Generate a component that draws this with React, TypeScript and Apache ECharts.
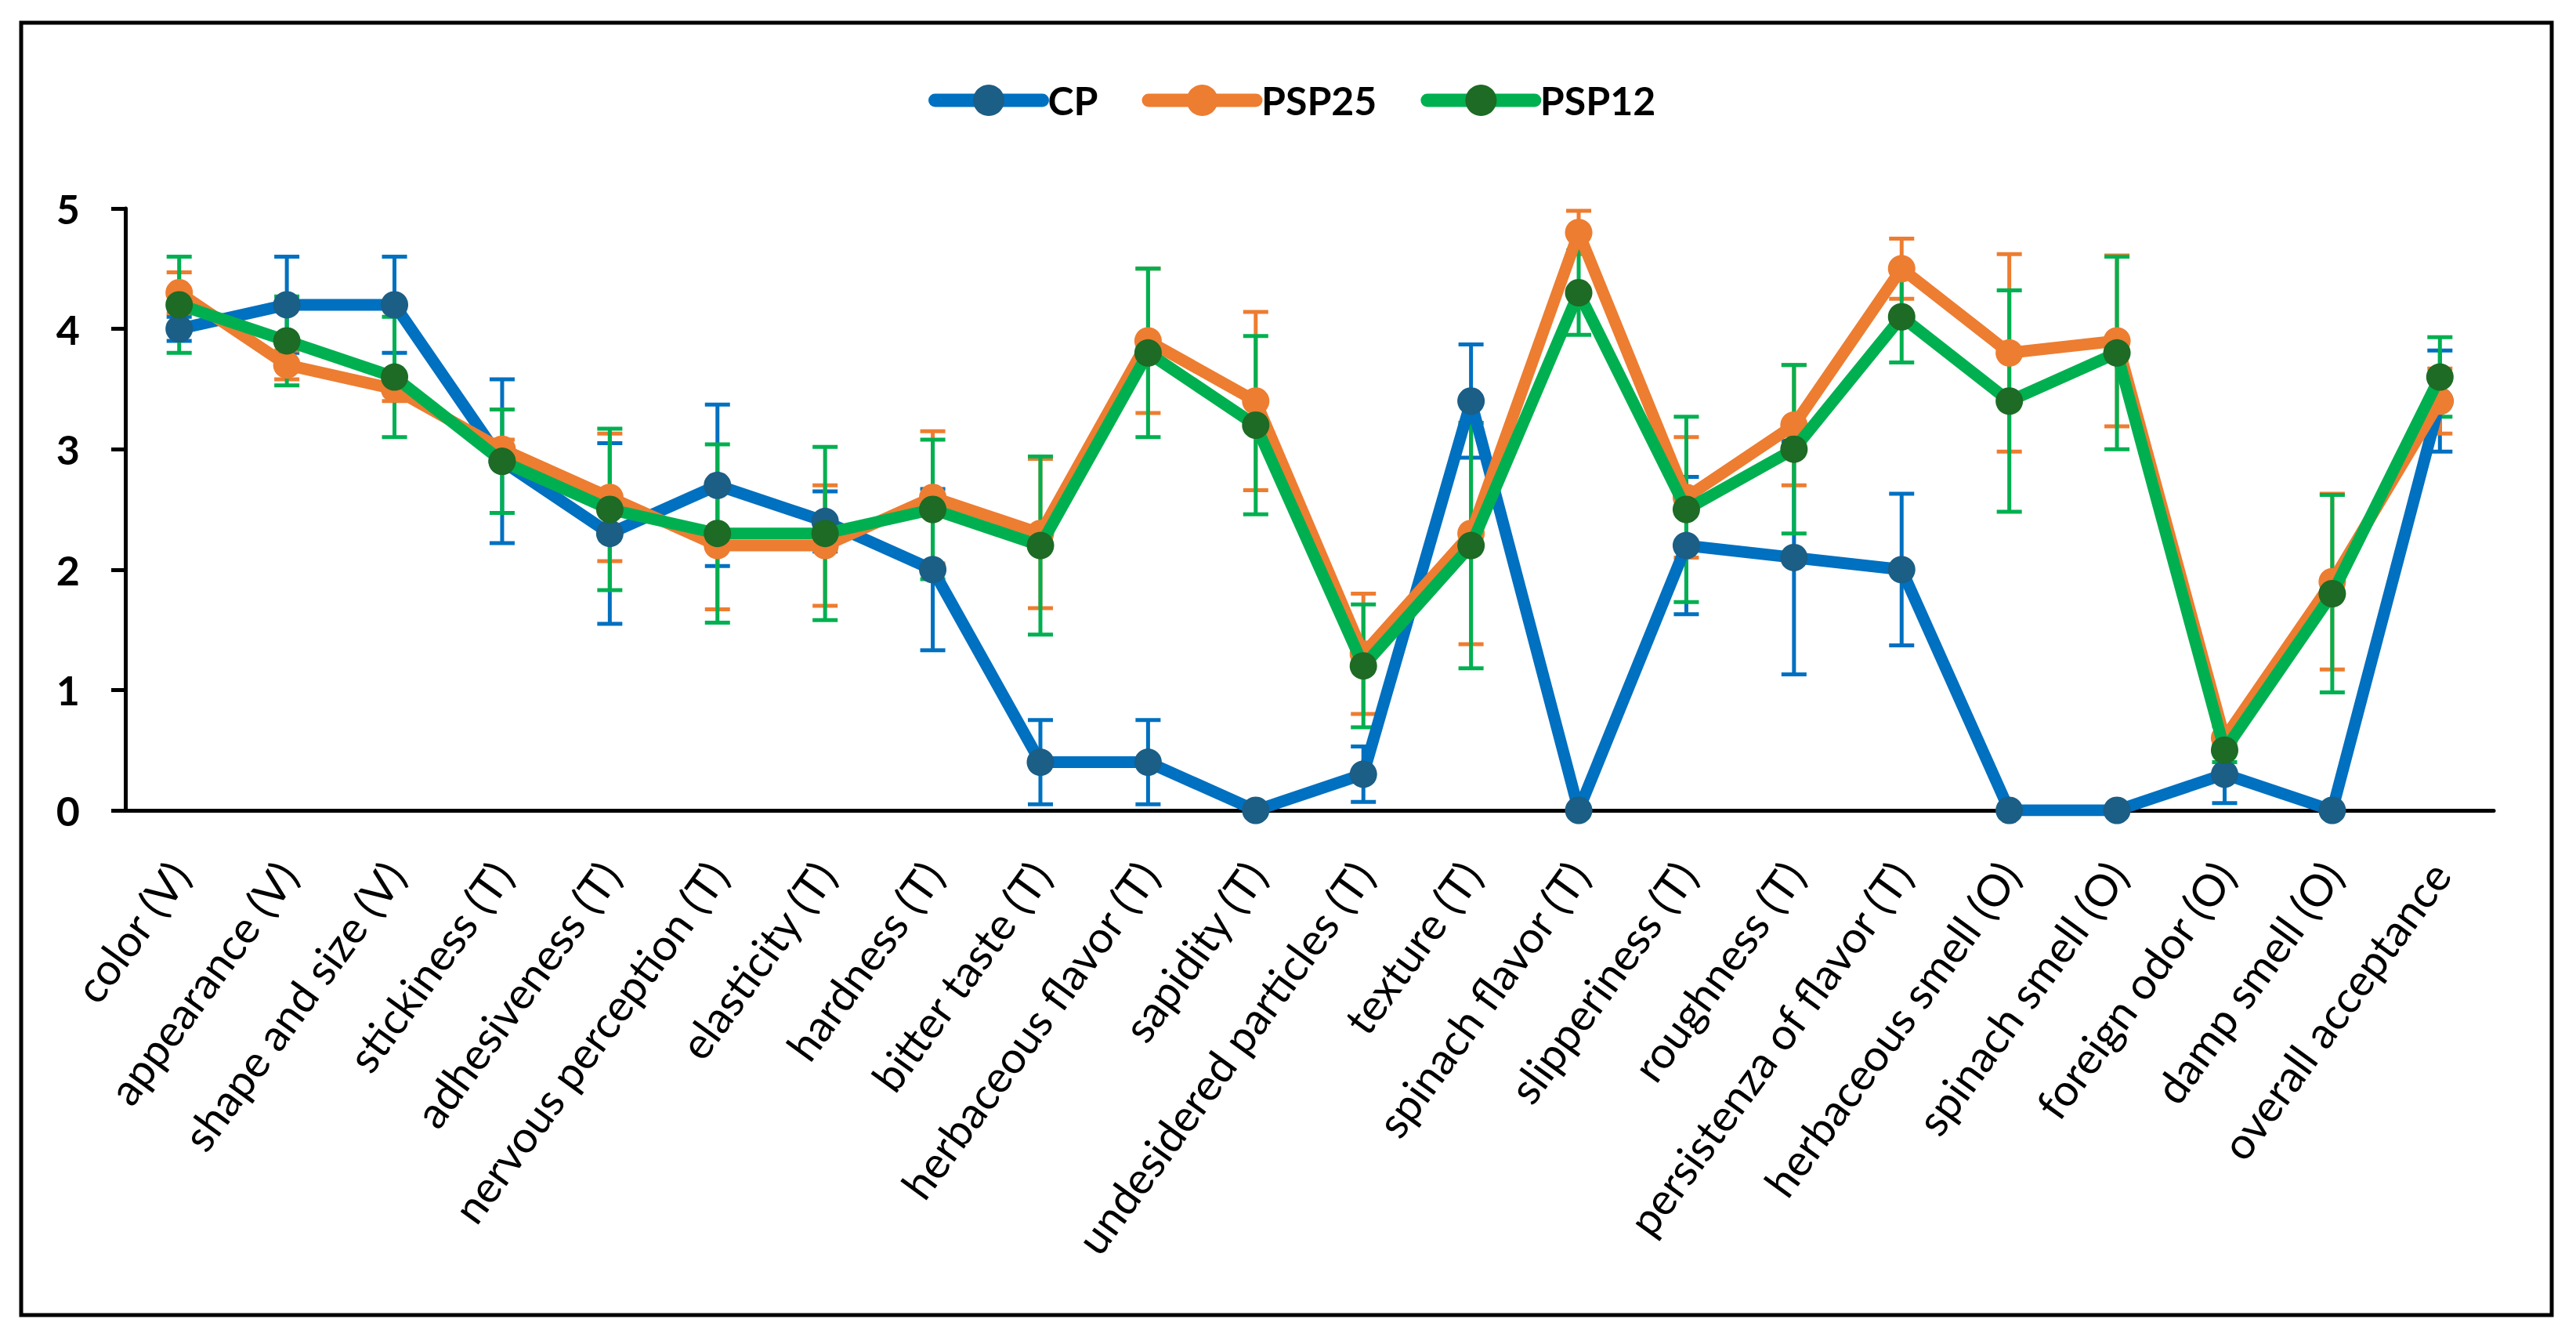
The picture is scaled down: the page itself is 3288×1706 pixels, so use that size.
import React, { useEffect, useRef } from "react";
import * as echarts from "echarts";

const categories = [
  "color (V)",
  "appearance (V)",
  "shape and size (V)",
  "stickiness (T)",
  "adhesiveness (T)",
  "nervous perception (T)",
  "elasticity (T)",
  "hardness (T)",
  "bitter taste (T)",
  "herbaceous flavor (T)",
  "sapidity (T)",
  "undesidered particles (T)",
  "texture (T)",
  "spinach flavor (T)",
  "slipperiness (T)",
  "roughness (T)",
  "persistenza of flavor (T)",
  "herbaceous smell (O)",
  "spinach smell (O)",
  "foreign odor (O)",
  "damp smell (O)",
  "overall acceptance",
];

const cpValues = [4.0, 4.2, 4.2, 2.9, 2.3, 2.7, 2.4, 2.0, 0.4, 0.4, 0, 0.3, 3.4, 0, 2.2, 2.1, 2.0, 0, 0, 0.3, 0, 3.4];
const cpErrors = [0.1, 0.4, 0.4, 0.68, 0.75, 0.67, 0.25, 0.67, 0.35, 0.35, 0, 0.23, 0.47, 0, 0.57, 0.97, 0.63, 0, 0, 0.24, 0, 0.42];

const psp25Values = [4.3, 3.7, 3.5, 3.0, 2.6, 2.2, 2.2, 2.6, 2.3, 3.9, 3.4, 1.3, 2.3, 4.8, 2.6, 3.2, 4.5, 3.8, 3.9, 0.6, 1.9, 3.4];
const psp25Errors = [0.17, 0.12, 0.1, 0.08, 0.53, 0.53, 0.5, 0.55, 0.62, 0.6, 0.74, 0.5, 0.92, 0.18, 0.5, 0.5, 0.25, 0.82, 0.71, 0.1, 0.73, 0.27];

const psp12Values = [4.2, 3.9, 3.6, 2.9, 2.5, 2.3, 2.3, 2.5, 2.2, 3.8, 3.2, 1.2, 2.2, 4.3, 2.5, 3.0, 4.1, 3.4, 3.8, 0.5, 1.8, 3.6];
const psp12Errors = [0.4, 0.37, 0.5, 0.43, 0.67, 0.74, 0.72, 0.58, 0.74, 0.7, 0.74, 0.51, 1.02, 0.35, 0.77, 0.7, 0.38, 0.92, 0.8, 0.1, 0.82, 0.33];

const yTicks = [0, 1, 2, 3, 4, 5];

const FONT = "Lato";

function lineSeries(name: string, values: number[], lineColor: string, markerColor: string, z: number) {
  return {
    type: "line",
    name,
    data: values,
    z,
    symbol: "circle",
    symbolSize: 35,
    lineStyle: { color: lineColor, width: 15 },
    itemStyle: { color: markerColor },
    emphasis: { disabled: true },
  };
}

function errorSeries(name: string, values: number[], errors: number[], color: string) {
  return {
    type: "custom",
    name: name + " error",
    z: 2,
    silent: true,
    data: values.map((v, i) => [i, v - errors[i], v + errors[i], errors[i]]),
    encode: { x: 0, y: [1, 2] },
    renderItem: (_params: any, api: any) => {
      const e = api.value(3);
      if (!e) return null;
      const top = api.coord([api.value(0), api.value(2)]);
      const bot = api.coord([api.value(0), api.value(1)]);
      const x = top[0];
      const half = 16;
      const style = { stroke: color, lineWidth: 5 };
      return {
        type: "group",
        children: [
          { type: "line", shape: { x1: x, y1: top[1], x2: x, y2: bot[1] }, style },
          { type: "line", shape: { x1: x - half, y1: top[1], x2: x + half, y2: top[1] }, style },
          { type: "line", shape: { x1: x - half, y1: bot[1], x2: x + half, y2: bot[1] }, style },
        ],
      };
    },
  };
}

export default function App() {
  const ref = useRef<HTMLDivElement>(null);

  useEffect(() => {
    if (!ref.current) return;
    const chart = echarts.init(ref.current, null, { renderer: "svg" });
    chart.setOption({
      animation: false,
      backgroundColor: "#ffffff",
      textStyle: { fontFamily: FONT, color: "#000" },
      graphic: [
        {
          type: "rect",
          shape: { x: 27, y: 29, width: 3230, height: 1649 },
          style: { fill: "none", stroke: "#000", lineWidth: 5 },
          silent: true,
        },
      ],
      legend: {
        data: ["CP", "PSP25", "PSP12"],
        left: 1180,
        top: 98,
        itemWidth: 137,
        itemHeight: 50,
        itemGap: 56,
        lineStyle: { width: 17, cap: "round" },
        textStyle: { fontFamily: FONT, fontSize: 50, fontWeight: "bold", color: "#000", padding: [0, 0, 0, 2] },
      },
      grid: { left: 160, right: 105, top: 266, bottom: 672 },
      xAxis: {
        type: "category",
        data: categories,
        boundaryGap: true,
        axisLine: { lineStyle: { color: "#000", width: 5 } },
        axisTick: { show: false },
        axisLabel: {
          interval: 0,
          rotate: 54,
          margin: 72,
          fontSize: 56,
          fontFamily: FONT,
          color: "#000",
        },
        splitLine: { show: false },
      },
      yAxis: {
        type: "value",
        min: yTicks[0],
        max: yTicks[yTicks.length - 1],
        interval: 1,
        axisLine: { show: true, lineStyle: { color: "#000", width: 5 } },
        axisTick: { show: true, length: 18, lineStyle: { color: "#000", width: 5 } },
        axisLabel: { fontSize: 52, fontWeight: "bold", fontFamily: FONT, color: "#000", margin: 58 },
        splitLine: { show: false },
      },
      series: [
        errorSeries("CP", cpValues, cpErrors, "#0070C0"),
        errorSeries("PSP25", psp25Values, psp25Errors, "#ED7D31"),
        errorSeries("PSP12", psp12Values, psp12Errors, "#00B050"),
        lineSeries("CP", cpValues, "#0070C0", "#1B5E86", 3),
        lineSeries("PSP25", psp25Values, "#ED7D31", "#ED7D31", 4),
        lineSeries("PSP12", psp12Values, "#00B050", "#1D6B25", 5),
      ],
    });
    return () => chart.dispose();
  }, []);

  return (
    <div
      ref={ref}
      style={{ position: "fixed", left: 0, top: 0, width: 3288, height: 1706, background: "#fff" }}
    />
  );
}
